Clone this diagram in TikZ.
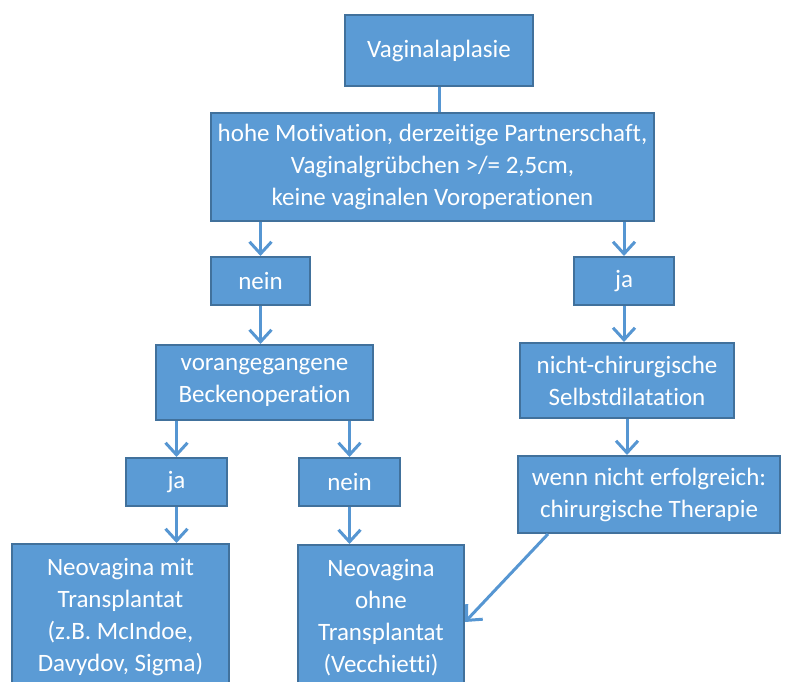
\documentclass[tikz,border=0pt]{standalone}
\usepackage{fontspec}
\setmainfont{Carlito}[Ligatures={NoCommon}]
\usetikzlibrary{arrows.meta,calc}
\definecolor{boxfill}{RGB}{91,155,213}
\definecolor{boxline}{RGB}{65,113,156}
\definecolor{arrcol}{RGB}{86,150,210}
\tikzset{
  box/.style={draw=boxline, line width=2pt, fill=boxfill, text=white, anchor=north west,
    inner sep=0pt, align=center, font=\fontsize{25}{32}\selectfont},
  conn/.style={draw=arrcol, line width=3pt},
  arr/.style={conn, -{Straight Barb[length=12pt,width=22pt,line width=3pt]}}
}
\begin{document}
\begin{tikzpicture}[x=1pt,y=-1pt]
\useasboundingbox (0,0) rectangle (785,682);
\clip (0,0) rectangle (785,682);
\node[box, minimum width=188pt, minimum height=71pt] (vag) at (344,14) {Vaginalaplasie};
\node[box, minimum width=443pt, minimum height=108pt] (big) at (210,112) {hohe Motivation, derzeitige Partnerschaft,\\Vaginalgrübchen >/= 2,5cm,\\keine vaginalen Voroperationen};
\node[box, minimum width=99pt, minimum height=48pt] (nein1) at (210,256) {nein};
\node[box, minimum width=100pt, minimum height=48pt] (ja1) at (573,256) {ja};
\node[box, minimum width=217pt, minimum height=75pt] (vor) at (155,344) {vorangegangene\\Beckenoperation};
\node[box, minimum width=214pt, minimum height=75pt] (nicht) at (519,342) {nicht-chirurgische\\Selbstdilatation};
\node[box, minimum width=101pt, minimum height=48pt] (ja2) at (125,457) {ja};
\node[box, minimum width=101pt, minimum height=48pt] (nein2) at (298,457) {nein};
\node[box, minimum width=262pt, minimum height=77pt] (wenn) at (517,455) {wenn nicht erfolgreich:\\chirurgische Therapie};
\node[box, minimum width=217pt, minimum height=146pt] (mit) at (11,543) {Neovagina mit\\Transplantat\\(z.B. McIndoe,\\Davydov, Sigma)};
\node[box, minimum width=166pt, minimum height=146pt] (ohne) at (297,544) {Neovagina\\ohne\\Transplantat\\(Vecchietti)};

\draw[conn] (vag.south) -- (vag.south |- big.north);
\draw[arr] (nein1.north |- big.south) -- (nein1.north);
\draw[arr] (ja1.north |- big.south) -- (ja1.north);
\draw[arr] (nein1.south) -- (nein1.south |- vor.north);
\draw[arr] (ja1.south) -- (ja1.south |- nicht.north);
\draw[arr] (ja2.north |- vor.south) -- (ja2.north);
\draw[arr] (nein2.north |- vor.south) -- (nein2.north);
\draw[arr] (nicht.south) -- (nicht.south |- wenn.north);
\draw[arr] (ja2.south) -- (ja2.south |- mit.north);
\draw[arr] (nein2.south) -- (nein2.south |- ohne.north);
\coordinate (wstart) at ($(wenn.south west)+(31,0)$);
\coordinate (oend) at ($(ohne.north east)+(0,78)$);
\draw[arr] (wstart) -- (oend);
\end{tikzpicture}
\end{document}
